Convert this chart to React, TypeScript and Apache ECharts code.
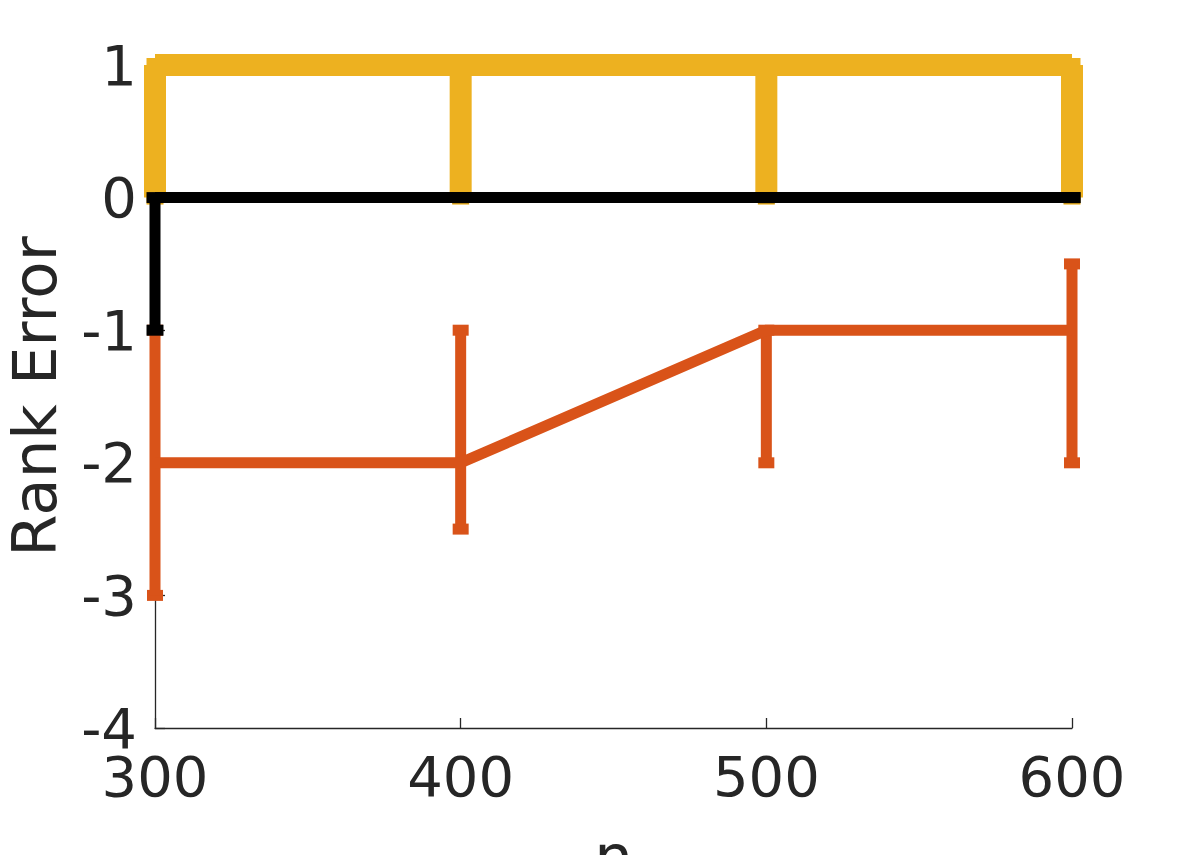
import React, { useEffect, useRef } from "react";
import * as echarts from "echarts";

const nValues = [300, 400, 500, 600];
const xTicks = { min: 300, max: 600, interval: 100 };
const yTicks = { min: -4, max: 1, interval: 1 };

const orangeMean = [-2, -2, -1, -1];
const orangeLow = [-3, -2.5, -2, -2];
const orangeHigh = [-1, -1, -1, -0.5];

const yellowMean = [1, 1, 1, 1];
const yellowLow = [0, 0, 0, 0];
const yellowHigh = [1, 1, 1, 1];

const blackMean = [0, 0, 0, 0];
const blackLow = [-1, 0, 0, 0];
const blackHigh = [0, 0, 0, 0];

const FONT = "DejaVu Sans";
const TEXT = "#262626";

function errorSeries(
  name: string,
  low: number[],
  high: number[],
  color: string,
  width: number,
  capWidth: number,
  capHalf: number,
  z: number
) {
  return {
    name: name + " err",
    type: "custom",
    z,
    silent: true,
    clip: false,
    data: nValues.map((x, i) => [x, low[i], high[i]]),
    encode: { x: 0, y: [1, 2] },
    renderItem: (params: any, api: any) => {
      const x = api.value(0);
      const lo = api.coord([x, api.value(1)]);
      const hi = api.coord([x, api.value(2)]);
      const style = { stroke: color, lineWidth: width, lineCap: "butt" };
      const capStyle = { stroke: color, lineWidth: capWidth, lineCap: "butt" };
      return {
        type: "group",
        children: [
          { type: "line", shape: { x1: lo[0] - capHalf, y1: lo[1], x2: lo[0] + capHalf, y2: lo[1] }, style: capStyle },
          { type: "line", shape: { x1: hi[0] - capHalf, y1: hi[1], x2: hi[0] + capHalf, y2: hi[1] }, style: capStyle },
          { type: "line", shape: { x1: lo[0], y1: lo[1], x2: hi[0], y2: hi[1] }, style },
        ],
      };
    },
  };
}

function lineSeries(name: string, mean: number[], color: string, width: number, z: number) {
  return {
    name,
    type: "line",
    z,
    silent: true,
    showSymbol: false,
    symbol: "none",
    clip: false,
    data: nValues.map((x, i) => [x, mean[i]]),
    lineStyle: { color, width, join: "miter", cap: "butt" },
  };
}

export default function App() {
  const ref = useRef<HTMLDivElement>(null);
  useEffect(() => {
    if (!ref.current) return;
    const chart = echarts.init(ref.current, null, { renderer: "svg" });
    chart.setOption({
      animation: false,
      backgroundColor: "#ffffff",
      grid: { left: 155, right: 112, top: 65, bottom: 127, containLabel: false, outerBoundsMode: "none" },
      xAxis: {
        type: "value",
        min: xTicks.min,
        max: xTicks.max,
        interval: xTicks.interval,
        name: "n",
        nameLocation: "middle",
        nameGap: 98,
        nameTextStyle: { fontFamily: FONT, fontSize: 61, color: TEXT },
        axisLine: { show: true, onZero: false, lineStyle: { color: TEXT, width: 1.3 } },
        axisTick: { show: true, inside: true, length: 10, lineStyle: { color: TEXT, width: 1.3 } },
        axisLabel: { fontFamily: FONT, fontSize: 56, color: TEXT, margin: 20 },
        splitLine: { show: false },
      },
      yAxis: {
        type: "value",
        min: yTicks.min,
        max: yTicks.max,
        interval: yTicks.interval,
        name: "Rank Error",
        nameLocation: "middle",
        nameRotate: 90,
        nameGap: 90,
        nameTextStyle: { fontFamily: FONT, fontSize: 61, color: TEXT },
        axisLine: { show: true, onZero: false, lineStyle: { color: TEXT, width: 1.3 } },
        axisTick: { show: true, inside: true, length: 10, lineStyle: { color: TEXT, width: 1.3 } },
        axisLabel: { fontFamily: FONT, fontSize: 56, color: TEXT, margin: 18 },
        splitLine: { show: false },
      },
      series: [
        errorSeries("orange", orangeLow, orangeHigh, "#D95319", 11, 11, 8, 2),
        lineSeries("orange", orangeMean, "#D95319", 11, 2),
        errorSeries("yellow", yellowLow, yellowHigh, "#EDB120", 22, 14, 8.5, 3),
        lineSeries("yellow", yellowMean, "#EDB120", 22, 3),
        errorSeries("black", blackLow, blackHigh, "#000000", 11, 11, 8.5, 4),
        lineSeries("black", blackMean, "#000000", 11, 4),
      ],
    });
    return () => chart.dispose();
  }, []);
  return <div ref={ref} style={{ width: 1184, height: 855, position: "absolute", left: 0, top: 0 }} />;
}
